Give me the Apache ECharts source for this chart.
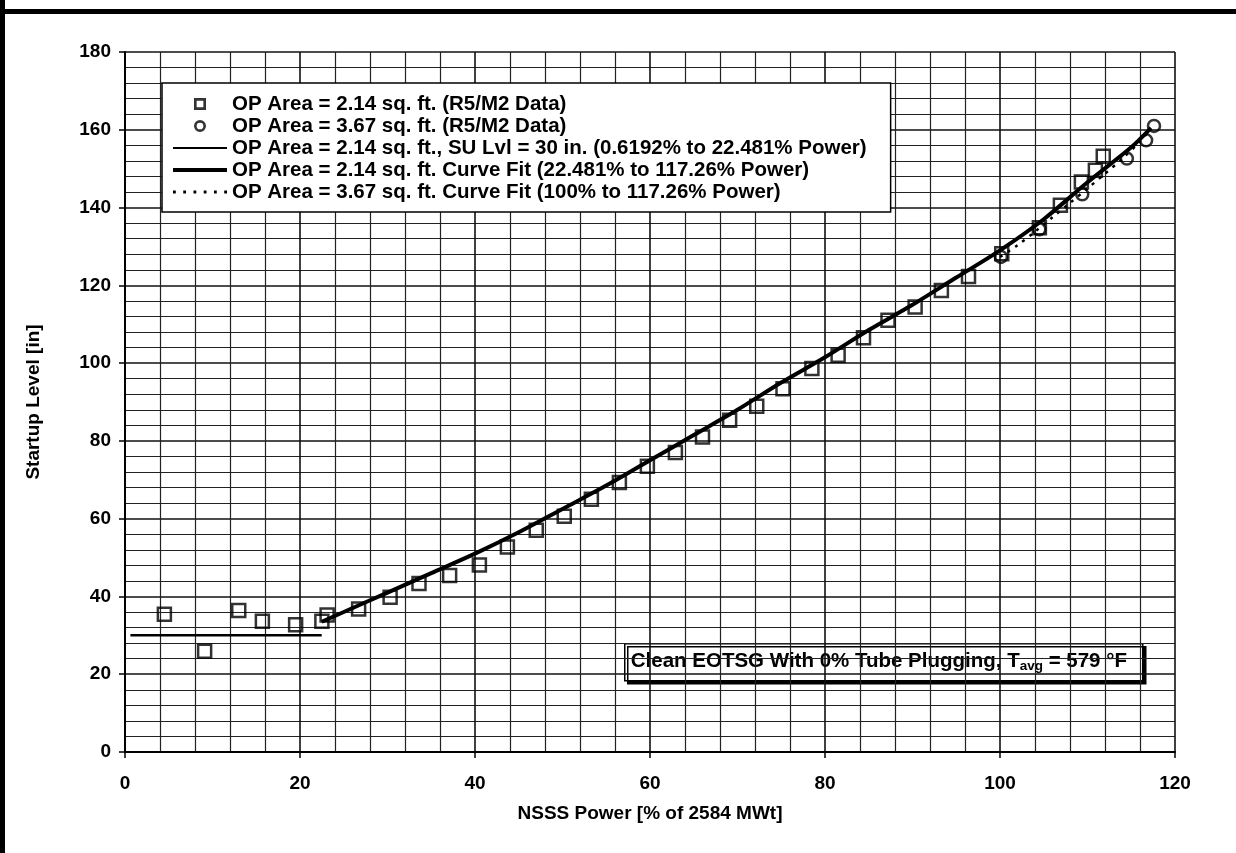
<!DOCTYPE html>
<html>
<head>
<meta charset="utf-8">
<title>Startup Level vs NSSS Power</title>
<script src="https://cdn.jsdelivr.net/npm/echarts@6/dist/echarts.min.js"></script>
<style>
  html, body { margin: 0; padding: 0; background: #fff; }
  #chart { width: 1236px; height: 853px; }
</style>
</head>
<body>
<div id="chart"></div>
<script>
// R5/M2 data points, OP area 2.14 sq. ft.  [power %, startup level in]
const dataArea214 = [
  [4.5, 35.4], [9.1, 25.9], [13.0, 36.4], [15.7, 33.6], [19.5, 32.7],
  [22.5, 33.6], [23.1, 35.2], [26.7, 36.8], [30.3, 39.8], [33.6, 43.3],
  [37.1, 45.4], [40.5, 48.1], [43.7, 52.7], [47.0, 57.0], [50.2, 60.6],
  [53.3, 65.0], [56.5, 69.3], [59.7, 73.5], [62.9, 77.0], [66.0, 81.0],
  [69.1, 85.3], [72.2, 88.9], [75.2, 93.4], [78.5, 98.6], [81.5, 102.0],
  [84.4, 106.5], [87.2, 111.0], [90.3, 114.4], [93.3, 118.7], [96.4, 122.3],
  [100.2, 128.1], [104.5, 134.8], [106.9, 140.6], [109.3, 146.6], [110.9, 149.6],
  [111.8, 153.2]
];

// R5/M2 data points, OP area 3.67 sq. ft.
const dataArea367 = [
  [100.1, 127.3], [104.5, 134.4], [109.4, 143.4], [114.5, 152.6], [116.7, 157.3], [117.6, 161.0]
];

// constant startup level segment
const suLevel214 = [[0.6192, 30], [22.481, 30]];

// curve fit, 2.14 sq. ft.
const fit214 = [
  [22.481, 33.5], [25, 36.0], [30, 41.0], [35, 46.0], [40, 51.0], [45, 56.5],
  [50, 62.5], [55, 68.5], [60, 75.0], [65, 81.5], [70, 88.0], [75, 95.0],
  [80, 101.5], [85, 108.5], [90, 115.0], [95, 122.0], [100, 129.0], [105, 137.0],
  [110, 146.5], [115, 155.5], [117.26, 160.5]
];

// curve fit, 3.67 sq. ft.
const fit367 = [
  [100, 127.3], [102, 130.3], [104, 133.8], [106, 137.5], [108, 141.2],
  [110, 144.9], [112, 148.7], [114, 152.6], [116, 157.0], [117.26, 160.2]
];

const xTicks = [0, 20, 40, 60, 80, 100, 120];
const yTicks = [0, 20, 40, 60, 80, 100, 120, 140, 160, 180];

const names = [
  'OP Area = 2.14 sq. ft. (R5/M2 Data)',
  'OP Area = 3.67 sq. ft. (R5/M2 Data)',
  'OP Area = 2.14 sq. ft., SU Lvl = 30 in. (0.6192% to 22.481% Power)',
  'OP Area = 2.14 sq. ft. Curve Fit (22.481% to 117.26% Power)',
  'OP Area = 3.67 sq. ft. Curve Fit (100% to 117.26% Power)'
];

const font = '"Liberation Sans", Arial, sans-serif';
const ink = '#000';

// legend glyphs (hollow shapes and line samples)
const iconSquare = 'path://M0,0H10V10H0Z M2.2,2.2V7.8H7.8V2.2Z';
const iconCircle = 'path://M5,0A5,5,0,1,1,5,10A5,5,0,1,1,5,0Z M5,2.2A2.8,2.8,0,1,0,5,7.8A2.8,2.8,0,1,0,5,2.2Z';
const iconThin = 'path://M0,0H54V2H0Z';
const iconThick = 'path://M0,0H54V4.2H0Z';
const iconDots = 'path://M0,0H2.6V2.6H0Z M9.5,0H12.1V2.6H9.5Z M19,0H21.6V2.6H19Z M28.5,0H31.1V2.6H28.5Z M38,0H40.6V2.6H38Z M47.5,0H50.1V2.6H47.5Z';

const chart = echarts.init(document.getElementById('chart'));

const axisCommon = {
  type: 'value',
  axisLine: { show: true, lineStyle: { color: ink, width: 2 } },
  axisTick: { show: true, inside: false, length: 6, lineStyle: { color: ink, width: 1.5 } },
  axisLabel: { color: ink, fontFamily: font, fontWeight: 'bold', fontSize: 19 },
  splitLine: { show: true, lineStyle: { color: '#111', width: 1.6 } },
  minorTick: { show: false, splitNumber: 5 },
  minorSplitLine: { show: true, lineStyle: { color: '#222', width: 1.2 } },
  nameTextStyle: { color: ink, fontFamily: font, fontWeight: 'bold', fontSize: 19 },
  nameLocation: 'middle'
};

const option = {
  animation: false,
  backgroundColor: '#fff',
  grid: { left: 125, right: 61, top: 52, bottom: 101 },
  xAxis: Object.assign({}, axisCommon, {
    min: xTicks[0], max: xTicks[xTicks.length - 1], interval: 20,
    name: 'NSSS Power [% of 2584 MWt]', nameGap: 52,
    axisLabel: Object.assign({}, axisCommon.axisLabel, { margin: 22 })
  }),
  yAxis: Object.assign({}, axisCommon, {
    min: yTicks[0], max: yTicks[yTicks.length - 1], interval: 20,
    name: 'Startup Level [in]', nameGap: 82, nameRotate: 90,
    axisLabel: Object.assign({}, axisCommon.axisLabel, { margin: 14 })
  }),
  legend: {
    orient: 'vertical', left: 162, top: 83,
    padding: [10, 24, 9, 11],
    itemWidth: 54, itemHeight: 12, itemGap: 0,
    backgroundColor: '#fff', borderColor: ink, borderWidth: 1.5,
    selectedMode: false,
    textStyle: { color: ink, fontFamily: font, fontSize: 20.5, fontWeight: 'bold', lineHeight: 22 },
    data: [
      { name: names[0], icon: iconSquare, itemStyle: { color: ink, borderWidth: 0 } },
      { name: names[1], icon: iconCircle, itemStyle: { color: ink, borderWidth: 0 } },
      { name: names[2], icon: iconThin, itemStyle: { color: ink, borderWidth: 0 } },
      { name: names[3], icon: iconThick, itemStyle: { color: ink, borderWidth: 0 } },
      { name: names[4], icon: iconDots, itemStyle: { color: ink, borderWidth: 0 } }
    ]
  },
  series: [
    {
      name: names[0], type: 'scatter', data: dataArea214,
      symbol: 'rect', symbolSize: 13, z: 4,
      itemStyle: { color: 'transparent', borderColor: ink, borderWidth: 2.5 }
    },
    {
      name: names[1], type: 'scatter', data: dataArea367,
      symbol: 'circle', symbolSize: 12, z: 4,
      itemStyle: { color: 'transparent', borderColor: ink, borderWidth: 2.5 }
    },
    {
      name: names[2], type: 'line', data: suLevel214,
      symbol: 'none', color: ink,
      lineStyle: { color: ink, width: 2.5 }
    },
    {
      name: names[3], type: 'line', data: fit214,
      symbol: 'none', smooth: 0.3, color: ink,
      lineStyle: { color: ink, width: 4 }
    },
    {
      name: names[4], type: 'line', data: fit367,
      symbol: 'none', smooth: 0.3, color: ink,
      lineStyle: { color: ink, width: 2.5, type: [3, 6] }
    }
  ],
  graphic: [
    // scanned page frame
    { type: 'rect', left: 0, top: 0, shape: { width: 5, height: 853 }, style: { fill: ink }, silent: true },
    { type: 'rect', left: 0, top: 9, shape: { width: 1236, height: 5 }, style: { fill: ink }, silent: true },
    {
      type: 'group', left: 624, top: 643,
      children: [
        { type: 'rect', shape: { x: 0, y: 0, width: 518, height: 37 },
          style: { fill: '#fff', stroke: ink, lineWidth: 1.5, shadowColor: ink, shadowOffsetX: 3, shadowOffsetY: 3, shadowBlur: 0 } },
        { type: 'text', x: 6, y: 18,
          style: {
            text: '{a|Clean EOTSG With 0% Tube Plugging, T}{s|avg}{a| = 579 °F}',
            verticalAlign: 'middle',
            rich: {
              a: { fontFamily: font, fontSize: 20.5, fontWeight: 'bold', fill: ink, lineHeight: 24 },
              s: { fontFamily: font, fontSize: 13.5, fontWeight: 'bold', fill: ink, lineHeight: 24, verticalAlign: 'bottom' }
            }
          } }
      ]
    }
  ]
};

chart.setOption(option);
</script>
</body>
</html>
